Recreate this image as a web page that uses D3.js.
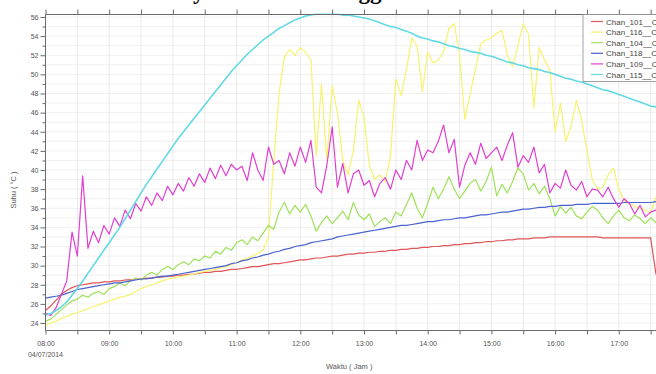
<!DOCTYPE html>
<html>
<head>
<meta charset="utf-8">
<script src="https://cdnjs.cloudflare.com/ajax/libs/d3/7.8.5/d3.min.js"></script>
<style>
  body { margin: 0; background: #fff; }
  svg { display: block; font-family: Arial, "Liberation Sans", sans-serif; }
</style>
</head>
<body>
<svg id="chart" width="656" height="374"></svg>
<script>
// sampling: one reading every 5 minutes starting 08:00 on 04/07/2014
const startTime = '2014-07-04 08:00';
const stepMinutes = 5;
const hourLabels = ['08:00', '09:00', '10:00', '11:00', '12:00', '13:00', '14:00', '15:00', '16:00', '17:00'];
const halfHourLabels = ['08:30', '09:30', '10:30', '11:30', '12:30', '13:30', '14:30', '15:30', '16:30', '17:30'];
const yTicks = [24, 26, 28, 30, 32, 34, 36, 38, 40, 42, 44, 46, 48, 50, 52, 54, 56];
const channels = ['Chan_101__C', 'Chan_116__C', 'Chan_104__C', 'Chan_118__C', 'Chan_109__C', 'Chan_115__C'];

const chan101 = [
  25.3, 25.8, 26.4, 27.0, 27.4, 27.7, 27.9, 28.0, 28.1, 28.2, 28.2, 28.3,
  28.3, 28.4, 28.4, 28.5, 28.5, 28.6, 28.6, 28.7, 28.7, 28.8, 28.8, 28.9,
  28.9, 29.0, 29.0, 29.1, 29.1, 29.2, 29.3, 29.3, 29.4, 29.4, 29.5, 29.6,
  29.6, 29.7, 29.8, 29.9, 29.9, 30.0, 30.1, 30.2, 30.2, 30.3, 30.4, 30.5,
  30.6, 30.6, 30.7, 30.8, 30.8, 30.9, 31.0, 31.0, 31.1, 31.2, 31.2, 31.3,
  31.3, 31.4, 31.4, 31.5, 31.5, 31.6, 31.6, 31.7, 31.7, 31.8, 31.8, 31.9,
  31.9, 32.0, 32.0, 32.1, 32.1, 32.2, 32.2, 32.3, 32.3, 32.4, 32.4, 32.5,
  32.5, 32.6, 32.6, 32.7, 32.7, 32.8, 32.8, 32.8, 32.9, 32.9, 32.9, 33.0,
  33.0, 33.0, 33.0, 33.0, 33.0, 33.0, 33.0, 33.0, 33.0, 32.9, 32.9, 32.9,
  32.9, 32.9, 32.9, 32.9, 32.9, 32.9, 32.9, 29.1, 31.2
];
const chan116 = [
  23.8, 24.0, 24.2, 24.5, 24.7, 24.9, 25.1, 25.3, 25.5, 25.7, 25.9, 26.1,
  26.3, 26.5, 26.7, 26.8, 27.0, 27.3, 27.6, 27.8, 28.0, 28.2, 28.4, 28.6,
  28.7, 28.8, 28.9, 29.0, 29.1, 29.3, 29.4, 29.5, 29.6, 29.8, 29.9, 30.1,
  30.3, 30.6, 30.8, 31.0, 31.3, 31.6, 33.0, 41.0, 48.0, 51.8, 52.6, 52.0,
  52.8, 52.3, 51.5, 41.5, 49.0, 41.0, 48.8, 46.0, 41.0, 39.5, 42.0, 47.3,
  45.5, 40.5, 39.0, 39.5, 38.8, 41.5, 49.5, 47.8, 50.5, 53.8, 53.0, 48.2,
  52.3, 51.2, 51.5, 52.4, 54.8, 55.3, 52.0, 45.3, 48.0, 50.5, 53.2, 53.6,
  53.8, 54.3, 54.6, 52.0, 50.8, 53.0, 55.3, 54.2, 46.5, 52.8, 51.5, 50.5,
  44.0, 47.0, 43.0, 44.5, 47.3, 45.2, 42.0, 39.0, 38.0, 38.2, 39.5, 40.2,
  38.0, 36.8, 36.5, 36.2, 36.0, 35.8, 35.5, 37.2, 36.0
];
const chan104 = [
  24.2, 24.4, 24.9, 25.4, 25.9, 26.3, 26.5, 26.9, 26.7, 27.1, 27.3, 27.0,
  27.6, 27.8, 28.2, 27.9, 28.4, 28.7, 28.5, 29.0, 29.3, 29.0, 29.6, 29.9,
  29.6, 30.1, 30.4, 30.1, 30.7, 30.5, 31.0, 30.8, 31.5, 31.2, 31.9, 31.6,
  32.4, 32.7, 32.2, 33.0, 32.6, 33.4, 34.2, 33.8, 35.6, 36.6, 35.4, 36.3,
  35.6, 36.4, 35.2, 33.6, 34.5, 35.2, 34.4, 35.0, 35.7, 34.8, 36.6, 35.3,
  34.8, 35.4, 34.1, 34.6, 35.0, 34.4, 35.6, 35.2, 36.4, 37.6, 36.0, 35.0,
  36.5, 38.2, 37.0, 38.0, 39.3, 38.0, 37.0, 37.8, 38.6, 39.0, 37.8, 38.8,
  40.3, 37.3, 38.5, 37.6, 38.8, 40.2, 39.6, 37.9, 38.6, 37.5, 38.3, 37.0,
  35.2, 36.2, 35.5, 36.1, 35.2, 34.9, 35.6, 36.2, 35.8, 35.0, 34.4, 35.2,
  35.8, 35.0, 34.7, 35.3, 34.9, 34.4, 35.0, 34.5, 34.8
];
const chan118 = [
  26.6, 26.7, 26.8, 26.9, 27.1, 27.3, 27.5, 27.6, 27.7, 27.8, 27.9, 28.0,
  28.1, 28.2, 28.2, 28.3, 28.4, 28.5, 28.6, 28.6, 28.7, 28.8, 28.9, 28.9,
  29.0, 29.1, 29.2, 29.3, 29.4, 29.5, 29.6, 29.7, 29.8, 29.9, 30.0, 30.2,
  30.3, 30.5, 30.6, 30.8, 30.9, 31.1, 31.2, 31.4, 31.5, 31.7, 31.8, 32.0,
  32.1, 32.2, 32.4, 32.5, 32.6, 32.7, 32.8, 33.0, 33.1, 33.2, 33.3, 33.4,
  33.5, 33.6, 33.7, 33.8, 33.9, 34.0, 34.1, 34.2, 34.2, 34.3, 34.4, 34.5,
  34.6, 34.6, 34.7, 34.8, 34.8, 34.9, 35.0, 35.0, 35.1, 35.2, 35.3, 35.3,
  35.4, 35.5, 35.6, 35.6, 35.7, 35.8, 35.9, 35.9, 36.0, 36.1, 36.1, 36.2,
  36.2, 36.3, 36.3, 36.3, 36.4, 36.4, 36.4, 36.5, 36.5, 36.5, 36.5, 36.5,
  36.5, 36.6, 36.6, 36.6, 36.6, 36.6, 36.6, 36.7, 36.7
];
const chan109 = [
  25.0, 24.8, 25.6, 27.0, 28.4, 33.5, 31.0, 39.4, 31.8, 33.6, 32.4, 34.2,
  33.3, 35.0, 34.1, 35.8, 34.9, 36.5, 35.7, 37.2, 36.3, 37.6, 36.8, 38.3,
  37.4, 38.6, 37.8, 39.2, 38.3, 39.6, 38.7, 40.2, 39.1, 40.5, 39.4, 40.6,
  40.0, 40.4, 38.9, 41.8, 40.0, 38.9, 42.4, 40.6, 41.0, 39.6, 41.8, 40.4,
  42.4, 40.8, 43.1, 38.2, 37.6, 40.5, 44.5, 38.2, 40.7, 37.6, 39.6, 40.0,
  38.4, 38.9, 37.2, 38.6, 39.2, 38.0, 40.0, 39.0, 41.0, 40.0, 43.1, 41.0,
  42.1, 41.8, 43.0, 44.7, 41.8, 43.2, 38.2, 40.5, 41.8, 40.6, 42.8, 41.2,
  41.8, 42.4, 41.0, 42.6, 43.9, 40.3, 41.5, 40.8, 42.4, 39.7, 40.6, 37.6,
  38.6, 38.1, 40.0, 38.4, 37.9, 38.8, 37.2, 38.0, 37.9, 37.2, 38.2, 37.0,
  36.1, 37.0, 36.5, 35.4, 36.3, 35.1, 35.6, 35.8, 35.2
];
const chan115 = [
  24.8, 25.0, 25.3, 25.7, 26.2, 26.9, 27.6, 28.4, 29.2, 30.0, 30.8, 31.6,
  32.4, 33.2, 34.0, 34.9, 35.8, 36.7, 37.6, 38.5, 39.3, 40.1, 40.9, 41.7,
  42.5, 43.3, 44.0, 44.7, 45.4, 46.1, 46.8, 47.5, 48.2, 48.9, 49.6, 50.3,
  50.9, 51.5, 52.1, 52.6, 53.1, 53.6, 54.0, 54.4, 54.8, 55.1, 55.4, 55.7,
  55.9, 56.1, 56.2, 56.3, 56.3, 56.3, 56.3, 56.3, 56.2, 56.2, 56.1, 56.0,
  55.9, 55.8, 55.6, 55.4, 55.2, 55.0, 54.9, 54.7, 54.5, 54.3, 54.0, 53.8,
  53.7, 53.5, 53.4, 53.2, 53.0, 52.9, 52.7, 52.6, 52.4, 52.3, 52.2, 52.0,
  51.9, 51.7, 51.5, 51.3, 51.2, 51.0, 50.9, 50.7, 50.6, 50.5, 50.3, 50.2,
  50.0, 49.8, 49.6, 49.5, 49.3, 49.2, 49.0, 48.8, 48.6, 48.4, 48.3, 48.1,
  47.9, 47.7, 47.5, 47.3, 47.1, 46.9, 46.7, 46.6, 46.4
];

const seriesValues = [chan101, chan116, chan104, chan118, chan109, chan115];
const colors = ['#e0565a', '#f7f36e', '#9ee25a', '#4a63cf', '#e03fd0', '#62d9e4'];
const widths = [1.2, 1.2, 1.2, 1.2, 1.2, 1.6];

const W = 656, H = 374;
const plot = { left: 45.5, top: 14.5, bottom: 330.5, right: 700 };

const parseDT = d3.timeParse('%Y-%m-%d %H:%M');
const parseHM = s => parseDT('2014-07-04 ' + s);
const t0 = parseDT(startTime);
const timeAt = i => d3.timeMinute.offset(t0, i * stepMinutes);

const x = d3.scaleTime()
  .domain([parseHM('08:00'), parseHM('17:00')])
  .range([45.5, 618.8]);

const y = d3.scaleLinear()
  .domain([24, 56])
  .range([323, 17]);

const svg = d3.select('#chart');

svg.append('rect').attr('width', W).attr('height', H).attr('fill', '#fff');

// title (only the descenders show at the top of the image)
svg.append('text')
  .attr('x', 28)
  .attr('y', -1)
  .style('font-family', '"Liberation Serif", "Times New Roman", serif')
  .style('font-weight', 'bold')
  .style('font-size', '23px')
  .attr('fill', '#000')
  .text('Grafik Suhu Surya Hasil Data Logger');

// grid
const grid = svg.append('g').attr('class', 'grid');
const yMinor = d3.range(24, 57);
grid.selectAll('.hgrid')
  .data(yMinor)
  .enter()
  .append('line')
  .attr('x1', plot.left).attr('x2', plot.right)
  .attr('y1', d => y(d)).attr('y2', d => y(d))
  .attr('stroke', '#ececec')
  .attr('stroke-width', 0.8);

const allTicks = hourLabels.concat(halfHourLabels).map(parseHM);
grid.selectAll('.vgrid')
  .data(allTicks.filter(d => x(d) > plot.left + 1))
  .enter()
  .append('line')
  .attr('x1', d => x(d)).attr('x2', d => x(d))
  .attr('y1', plot.top).attr('y2', plot.bottom)
  .attr('stroke', '#e6e6e6')
  .attr('stroke-width', 0.8);

// series
svg.append('clipPath').attr('id', 'plotClip')
  .append('rect')
  .attr('x', plot.left).attr('y', plot.top - 1)
  .attr('width', plot.right - plot.left).attr('height', plot.bottom - plot.top + 1);

const line = d3.line()
  .x((d, i) => x(timeAt(i)))
  .y(d => y(d));

const lines = svg.append('g').attr('clip-path', 'url(#plotClip)');
seriesValues.forEach((vals, k) => {
  lines.append('path')
    .datum(vals)
    .attr('fill', 'none')
    .attr('stroke', colors[k])
    .attr('stroke-width', widths[k])
    .attr('stroke-linejoin', 'round')
    .attr('d', line);
});

// frame
const axisColor = '#6a6a6a';
svg.append('line')
  .attr('x1', plot.left).attr('x2', plot.left)
  .attr('y1', plot.top).attr('y2', plot.bottom)
  .attr('stroke', axisColor);
svg.append('line')
  .attr('x1', plot.left).attr('x2', plot.right)
  .attr('y1', plot.bottom).attr('y2', plot.bottom)
  .attr('stroke', axisColor);
svg.append('line')
  .attr('x1', plot.left).attr('x2', plot.right)
  .attr('y1', plot.top).attr('y2', plot.top)
  .attr('stroke', axisColor);

// y axis
const yAxis = svg.append('g')
  .attr('transform', `translate(${plot.left},0)`)
  .call(d3.axisLeft(y).tickValues(yTicks).tickSize(5).tickPadding(2).tickFormat(d3.format('d')));
svg.append('g')
  .attr('transform', `translate(${plot.left},0)`)
  .call(d3.axisLeft(y).tickValues(d3.range(25, 56, 2)).tickSize(3).tickFormat(''))
  .call(g => g.select('.domain').remove())
  .selectAll('line').attr('stroke', axisColor);
yAxis.select('.domain').remove();
yAxis.selectAll('line').attr('stroke', axisColor);
yAxis.selectAll('text').attr('fill', '#555').style('font-size', '7px');

// x axis bottom
const xAxis = svg.append('g')
  .attr('transform', `translate(0,${plot.bottom})`)
  .call(d3.axisBottom(x).tickValues(hourLabels.map(parseHM)).tickSize(4).tickPadding(7)
    .tickFormat(d3.timeFormat('%H:%M')));
svg.append('g')
  .attr('transform', `translate(0,${plot.bottom})`)
  .call(d3.axisBottom(x).tickValues(halfHourLabels.map(parseHM)).tickSize(4).tickFormat(''))
  .call(g => g.select('.domain').remove())
  .selectAll('line').attr('stroke', axisColor);
xAxis.select('.domain').remove();
xAxis.selectAll('line').attr('stroke', axisColor);
xAxis.selectAll('text').attr('fill', '#555').style('font-size', '7px');

// x axis top (ticks only)
svg.append('g')
  .attr('transform', `translate(0,${plot.top})`)
  .call(d3.axisTop(x).tickValues(allTicks).tickSize(5).tickFormat(''))
  .call(g => g.select('.domain').remove())
  .selectAll('line').attr('stroke', axisColor);

// date under first tick
svg.append('text')
  .attr('x', x(parseHM('08:00')))
  .attr('y', 357)
  .attr('text-anchor', 'middle')
  .attr('fill', '#555')
  .style('font-size', '7px')
  .text('04/07/2014');

// axis titles
svg.append('text')
  .attr('x', 326)
  .attr('y', 369)
  .attr('fill', '#555')
  .style('font-size', '7.5px')
  .text('Waktu ( Jam )');

svg.append('text')
  .attr('transform', 'translate(16,190) rotate(-90)')
  .attr('text-anchor', 'middle')
  .attr('fill', '#555')
  .style('font-size', '7.5px')
  .text('Suhu ( °C )');

// legend
const legend = svg.append('g').attr('transform', 'translate(583,14.5)');
legend.append('rect')
  .attr('width', 90).attr('height', 67)
  .attr('fill', '#fff')
  .attr('stroke', '#8a8a8a')
  .attr('stroke-width', 0.8);
channels.forEach((name, k) => {
  const cy = 7 + k * 10.6;
  legend.append('line')
    .attr('x1', 8).attr('x2', 20)
    .attr('y1', cy).attr('y2', cy)
    .attr('stroke', colors[k])
    .attr('stroke-width', 1.2);
  legend.append('text')
    .attr('x', 23).attr('y', cy + 3)
    .attr('fill', '#444')
    .style('font-size', '8px')
    .text(name);
});
</script>
</body>
</html>
